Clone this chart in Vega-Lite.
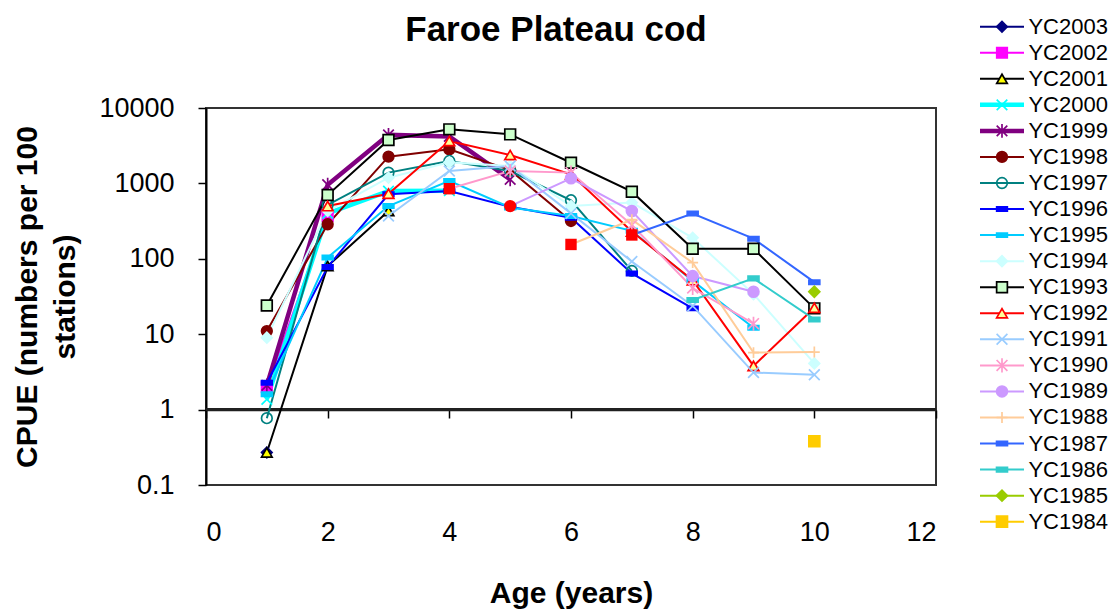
{
  "$schema": "https://vega.github.io/schema/vega-lite/v6.json",
  "padding": {"left": 11, "top": 12, "right": 0, "bottom": 0},
  "config": {"font": "Liberation Sans", "view": {"stroke": null}},
  "datasets": {
    "cpue": [
      {"series": "YC2003", "age": 1, "cpue": 0.27},
      {"series": "YC2002", "age": 1, "cpue": 2.0},
      {"series": "YC2002", "age": 2, "cpue": 370},
      {"series": "YC2001", "age": 1, "cpue": 0.27},
      {"series": "YC2001", "age": 2, "cpue": 80},
      {"series": "YC2001", "age": 3, "cpue": 430},
      {"series": "YC2000", "age": 1, "cpue": 1.37},
      {"series": "YC2000", "age": 2, "cpue": 400},
      {"series": "YC2000", "age": 3, "cpue": 790},
      {"series": "YC2000", "age": 4, "cpue": 800},
      {"series": "YC1999", "age": 1, "cpue": 2.1},
      {"series": "YC1999", "age": 2, "cpue": 960},
      {"series": "YC1999", "age": 3, "cpue": 4400},
      {"series": "YC1999", "age": 4, "cpue": 4200},
      {"series": "YC1999", "age": 5, "cpue": 1130},
      {"series": "YC1998", "age": 1, "cpue": 11},
      {"series": "YC1998", "age": 2, "cpue": 287},
      {"series": "YC1998", "age": 3, "cpue": 2260},
      {"series": "YC1998", "age": 4, "cpue": 2830},
      {"series": "YC1998", "age": 5, "cpue": 1500},
      {"series": "YC1998", "age": 6, "cpue": 317},
      {"series": "YC1997", "age": 1, "cpue": 0.77},
      {"series": "YC1997", "age": 2, "cpue": 520},
      {"series": "YC1997", "age": 3, "cpue": 1390},
      {"series": "YC1997", "age": 4, "cpue": 1980},
      {"series": "YC1997", "age": 5, "cpue": 1460},
      {"series": "YC1997", "age": 6, "cpue": 597},
      {"series": "YC1997", "age": 7, "cpue": 69},
      {"series": "YC1996", "age": 1, "cpue": 2.27},
      {"series": "YC1996", "age": 2, "cpue": 78},
      {"series": "YC1996", "age": 3, "cpue": 716},
      {"series": "YC1996", "age": 4, "cpue": 790},
      {"series": "YC1996", "age": 5, "cpue": 490},
      {"series": "YC1996", "age": 6, "cpue": 350},
      {"series": "YC1996", "age": 7, "cpue": 64},
      {"series": "YC1996", "age": 8, "cpue": 22},
      {"series": "YC1995", "age": 1, "cpue": 1.6},
      {"series": "YC1995", "age": 2, "cpue": 104},
      {"series": "YC1995", "age": 3, "cpue": 500},
      {"series": "YC1995", "age": 4, "cpue": 1080},
      {"series": "YC1995", "age": 5, "cpue": 480},
      {"series": "YC1995", "age": 6, "cpue": 370},
      {"series": "YC1995", "age": 7, "cpue": 235},
      {"series": "YC1995", "age": 8, "cpue": 51},
      {"series": "YC1995", "age": 9, "cpue": 12.2},
      {"series": "YC1994", "age": 1, "cpue": 9},
      {"series": "YC1994", "age": 2, "cpue": 430},
      {"series": "YC1994", "age": 3, "cpue": 1190},
      {"series": "YC1994", "age": 4, "cpue": 1900},
      {"series": "YC1994", "age": 5, "cpue": 1700},
      {"series": "YC1994", "age": 6, "cpue": 500},
      {"series": "YC1994", "age": 7, "cpue": 556},
      {"series": "YC1994", "age": 8, "cpue": 190},
      {"series": "YC1994", "age": 9, "cpue": 34},
      {"series": "YC1994", "age": 10, "cpue": 4.1},
      {"series": "YC1993", "age": 1, "cpue": 24},
      {"series": "YC1993", "age": 2, "cpue": 700},
      {"series": "YC1993", "age": 3, "cpue": 3760},
      {"series": "YC1993", "age": 4, "cpue": 5210},
      {"series": "YC1993", "age": 5, "cpue": 4470},
      {"series": "YC1993", "age": 6, "cpue": 1880},
      {"series": "YC1993", "age": 7, "cpue": 776},
      {"series": "YC1993", "age": 8, "cpue": 136},
      {"series": "YC1993", "age": 9, "cpue": 136},
      {"series": "YC1993", "age": 10, "cpue": 22},
      {"series": "YC1992", "age": 2, "cpue": 500},
      {"series": "YC1992", "age": 3, "cpue": 730},
      {"series": "YC1992", "age": 4, "cpue": 3650},
      {"series": "YC1992", "age": 5, "cpue": 2380},
      {"series": "YC1992", "age": 6, "cpue": 1320},
      {"series": "YC1992", "age": 7, "cpue": 230},
      {"series": "YC1992", "age": 8, "cpue": 52},
      {"series": "YC1992", "age": 9, "cpue": 3.8},
      {"series": "YC1992", "age": 10, "cpue": 22.4},
      {"series": "YC1991", "age": 3, "cpue": 370},
      {"series": "YC1991", "age": 4, "cpue": 1460},
      {"series": "YC1991", "age": 5, "cpue": 1700},
      {"series": "YC1991", "age": 6, "cpue": 400},
      {"series": "YC1991", "age": 7, "cpue": 92},
      {"series": "YC1991", "age": 8, "cpue": 23.7},
      {"series": "YC1991", "age": 9, "cpue": 3.1},
      {"series": "YC1991", "age": 10, "cpue": 2.9},
      {"series": "YC1990", "age": 4, "cpue": 850},
      {"series": "YC1990", "age": 5, "cpue": 1460},
      {"series": "YC1990", "age": 6, "cpue": 1390},
      {"series": "YC1990", "age": 7, "cpue": 280},
      {"series": "YC1990", "age": 8, "cpue": 41},
      {"series": "YC1990", "age": 9, "cpue": 13.8},
      {"series": "YC1989", "age": 5, "cpue": 500},
      {"series": "YC1989", "age": 6, "cpue": 1170},
      {"series": "YC1989", "age": 7, "cpue": 430},
      {"series": "YC1989", "age": 8, "cpue": 59},
      {"series": "YC1989", "age": 9, "cpue": 36.6},
      {"series": "YC1988", "age": 6, "cpue": 155},
      {"series": "YC1988", "age": 7, "cpue": 330},
      {"series": "YC1988", "age": 8, "cpue": 89},
      {"series": "YC1988", "age": 9, "cpue": 5.7},
      {"series": "YC1988", "age": 10, "cpue": 5.8},
      {"series": "YC1987", "age": 7, "cpue": 207},
      {"series": "YC1987", "age": 8, "cpue": 398},
      {"series": "YC1987", "age": 9, "cpue": 185},
      {"series": "YC1987", "age": 10, "cpue": 49},
      {"series": "YC1986", "age": 8, "cpue": 28.4},
      {"series": "YC1986", "age": 9, "cpue": 55},
      {"series": "YC1986", "age": 10, "cpue": 15.7},
      {"series": "YC1985", "age": 10, "cpue": 36.6},
      {"series": "YC1984", "age": 10, "cpue": 0.38}
    ],
    "legend": [
      {"series": "YC2003"}, {"series": "YC2002"}, {"series": "YC2001"}, {"series": "YC2000"},
      {"series": "YC1999"}, {"series": "YC1998"}, {"series": "YC1997"}, {"series": "YC1996"},
      {"series": "YC1995"}, {"series": "YC1994"}, {"series": "YC1993"}, {"series": "YC1992"},
      {"series": "YC1991"}, {"series": "YC1990"}, {"series": "YC1989"}, {"series": "YC1988"},
      {"series": "YC1987"}, {"series": "YC1986"}, {"series": "YC1985"}, {"series": "YC1984"}
    ]
  },
  "spacing": 39,
  "hconcat": [
    {
      "width": 730,
      "height": 377,
      "view": {"stroke": "#333333", "strokeWidth": 2},
      "title": {"text": "Faroe Plateau cod", "fontSize": 35, "fontWeight": "bold", "font": "Liberation Sans", "color": "black", "anchor": "middle", "frame": "group", "dx": -15, "offset": 46},
      "data": {"name": "cpue"},
      "encoding": {
        "x": {"field": "age", "type": "quantitative",
          "scale": {"domain": [0, 12], "nice": false, "zero": false},
          "axis": {"values": [0, 2, 4, 6, 8, 10, 12], "offset": -75, "labelPadding": 101, "tickSize": 8, "tickColor": "black", "tickWidth": 1.5,
            "domainColor": "#222222", "domainWidth": 1.5, "grid": false, "labelFontSize": 27, "labelColor": "black", "labelFont": "Liberation Sans",
            "title": "Age (years)", "titleFontSize": 30, "titleFontWeight": "bold", "titleColor": "black", "titleFont": "Liberation Sans", "titlePadding": 33}},
        "y": {"field": "cpue", "type": "quantitative",
          "scale": {"type": "log", "domain": [0.1, 10000], "nice": false},
          "axis": {"values": [0.1, 1, 10, 100, 1000, 10000], "format": "~g", "tickSize": 8, "tickColor": "black", "tickWidth": 1.5,
            "domainColor": "black", "domainWidth": 2, "grid": false, "labelFontSize": 27, "labelColor": "black", "labelFont": "Liberation Sans", "labelPadding": 24,
            "title": ["CPUE (numbers per 100", "stations)"], "titleFontSize": 30, "titleFontWeight": "bold", "titleColor": "black", "titleFont": "Liberation Sans", "titleLineHeight": 38, "titlePadding": 18}}
      },
      "layer": [
        {
          "mark": {"type": "rule", "color": "#222222", "strokeWidth": 1.5},
          "encoding": {"y": {"datum": 1, "type": "quantitative"}, "x": {"datum": 0, "type": "quantitative"}, "x2": {"datum": 12}}
        },
        {
          "mark": {"type": "line"},
          "encoding": {
            "stroke": {"field": "series", "type": "nominal", "legend": null,
              "scale": {"domain": ["YC2003","YC2002","YC2001","YC2000","YC1999","YC1998","YC1997","YC1996","YC1995","YC1994","YC1993","YC1992","YC1991","YC1990","YC1989","YC1988","YC1987","YC1986","YC1985","YC1984"],
                "range": ["#000080","#FF00FF","#000000","#00FFFF","#800080","#800000","#008080","#0000FF","#00CCFF","#CCFFFF","#000000","#FF0000","#99CCFF","#FF99CC","#CC99FF","#FFCC99","#3366FF","#33CCCC","#99CC00","#FFCC00"]}},
            "strokeWidth": {"condition": {"test": "datum.series=='YC2000'||datum.series=='YC1999'", "value": 4.5}, "value": 2}
          }
        },
        {
          "transform": [{"filter": "!((datum.series=='YC1990'&&datum.age==4)||(datum.series=='YC1989'&&datum.age==5)||(datum.series=='YC1988'&&datum.age==6)||(datum.series=='YC1987'&&datum.age==7))"}],
          "mark": {"type": "point", "opacity": 1, "strokeWidth": 1.7},
          "encoding": {
            "shape": {"field": "series", "type": "nominal", "legend": null,
              "scale": {"domain": ["YC2003","YC2002","YC2001","YC2000","YC1999","YC1998","YC1997","YC1996","YC1995","YC1994","YC1993","YC1992","YC1991","YC1990","YC1989","YC1988","YC1987","YC1986","YC1985","YC1984"],
                "range": ["diamond","square","triangle-up","M-1,-1L1,1M-1,1L1,-1","M-1,-1L1,1M-1,1L1,-1M0,-1.3L0,1.3","circle","circle","M-1,-0.4L1,-0.4L1,0.4L-1,0.4Z","M-1,-0.4L1,-0.4L1,0.4L-1,0.4Z","diamond","square","triangle-up","M-1,-1L1,1M-1,1L1,-1","M-1,-1L1,1M-1,1L1,-1M0,-1.3L0,1.3","circle","M-1,0L1,0M0,-1L0,1","M-1,-0.4L1,-0.4L1,0.4L-1,0.4Z","M-1,-0.4L1,-0.4L1,0.4L-1,0.4Z","diamond","square"]}},
            "fill": {"field": "series", "type": "nominal", "legend": null,
              "scale": {"domain": ["YC2003","YC2002","YC2001","YC2000","YC1999","YC1998","YC1997","YC1996","YC1995","YC1994","YC1993","YC1992","YC1991","YC1990","YC1989","YC1988","YC1987","YC1986","YC1985","YC1984"],
                "range": ["#000080","#FF00FF","#FFFF00","transparent","transparent","#800000","transparent","#0000FF","#00CCFF","#CCFFFF","#CCFFCC","#FFFF99","transparent","transparent","#CC99FF","transparent","#3366FF","#33CCCC","#99CC00","#FFCC00"]}},
            "stroke": {"field": "series", "type": "nominal", "legend": null,
              "scale": {"domain": ["YC2003","YC2002","YC2001","YC2000","YC1999","YC1998","YC1997","YC1996","YC1995","YC1994","YC1993","YC1992","YC1991","YC1990","YC1989","YC1988","YC1987","YC1986","YC1985","YC1984"],
                "range": ["#000080","#FF00FF","#000000","#00FFFF","#800080","#800000","#008080","#0000FF","#00CCFF","#CCFFFF","#000000","#FF0000","#99CCFF","#FF99CC","#CC99FF","#FFCC99","#3366FF","#33CCCC","#99CC00","#FFCC00"]}},
            "size": {"field": "series", "type": "nominal", "legend": null,
              "scale": {"domain": ["YC2003","YC2002","YC2001","YC2000","YC1999","YC1998","YC1997","YC1996","YC1995","YC1994","YC1993","YC1992","YC1991","YC1990","YC1989","YC1988","YC1987","YC1986","YC1985","YC1984"],
                "range": [110,120,130,230,230,140,190,64,100,140,160,170,200,200,180,200,64,100,140,140]}}
          }
        },
        {
          "transform": [{"filter": "(datum.series=='YC1990'&&datum.age==4)||(datum.series=='YC1988'&&datum.age==6)||(datum.series=='YC1987'&&datum.age==7)"}],
          "mark": {"type": "point", "shape": "square", "filled": true, "color": "#FF0000", "opacity": 1, "size": 130}
        },
        {
          "transform": [{"filter": "datum.series=='YC1989'&&datum.age==5"}],
          "mark": {"type": "point", "shape": "circle", "filled": true, "color": "#FF0000", "opacity": 1, "size": 150}
        }
      ]
    },
    {
      "width": 44,
      "height": 377,
      "view": {"stroke": null},
      "data": {"name": "legend"},
      "encoding": {
        "y": {"field": "series", "type": "nominal", "axis": null,
          "scale": {"type": "point", "padding": 0, "range": [-81.3, 413.7], "domain": ["YC2003","YC2002","YC2001","YC2000","YC1999","YC1998","YC1997","YC1996","YC1995","YC1994","YC1993","YC1992","YC1991","YC1990","YC1989","YC1988","YC1987","YC1986","YC1985","YC1984"]}}
      },
      "layer": [
        {
          "mark": {"type": "rule"},
          "encoding": {
            "x": {"datum": 0, "type": "quantitative", "scale": {"domain": [0, 1], "nice": false, "zero": false}, "axis": null},
            "x2": {"datum": 1},
            "stroke": {"field": "series", "type": "nominal", "legend": null,
              "scale": {"domain": ["YC2003","YC2002","YC2001","YC2000","YC1999","YC1998","YC1997","YC1996","YC1995","YC1994","YC1993","YC1992","YC1991","YC1990","YC1989","YC1988","YC1987","YC1986","YC1985","YC1984"],
                "range": ["#000080","#FF00FF","#000000","#00FFFF","#800080","#800000","#008080","#0000FF","#00CCFF","#CCFFFF","#000000","#FF0000","#99CCFF","#FF99CC","#CC99FF","#FFCC99","#3366FF","#33CCCC","#99CC00","#FFCC00"]}},
            "strokeWidth": {"condition": {"test": "datum.series=='YC2000'||datum.series=='YC1999'", "value": 4.5}, "value": 2}
          }
        },
        {
          "mark": {"type": "point", "opacity": 1, "strokeWidth": 1.7},
          "encoding": {
            "x": {"datum": 0.5, "type": "quantitative"},
            "shape": {"field": "series", "type": "nominal", "legend": null,
              "scale": {"domain": ["YC2003","YC2002","YC2001","YC2000","YC1999","YC1998","YC1997","YC1996","YC1995","YC1994","YC1993","YC1992","YC1991","YC1990","YC1989","YC1988","YC1987","YC1986","YC1985","YC1984"],
                "range": ["diamond","square","triangle-up","M-1,-1L1,1M-1,1L1,-1","M-1,-1L1,1M-1,1L1,-1M0,-1.3L0,1.3","circle","circle","M-1,-0.4L1,-0.4L1,0.4L-1,0.4Z","M-1,-0.4L1,-0.4L1,0.4L-1,0.4Z","diamond","square","triangle-up","M-1,-1L1,1M-1,1L1,-1","M-1,-1L1,1M-1,1L1,-1M0,-1.3L0,1.3","circle","M-1,0L1,0M0,-1L0,1","M-1,-0.4L1,-0.4L1,0.4L-1,0.4Z","M-1,-0.4L1,-0.4L1,0.4L-1,0.4Z","diamond","square"]}},
            "fill": {"field": "series", "type": "nominal", "legend": null,
              "scale": {"domain": ["YC2003","YC2002","YC2001","YC2000","YC1999","YC1998","YC1997","YC1996","YC1995","YC1994","YC1993","YC1992","YC1991","YC1990","YC1989","YC1988","YC1987","YC1986","YC1985","YC1984"],
                "range": ["#000080","#FF00FF","#FFFF00","transparent","transparent","#800000","transparent","#0000FF","#00CCFF","#CCFFFF","#CCFFCC","#FFFF99","transparent","transparent","#CC99FF","transparent","#3366FF","#33CCCC","#99CC00","#FFCC00"]}},
            "stroke": {"field": "series", "type": "nominal", "legend": null,
              "scale": {"domain": ["YC2003","YC2002","YC2001","YC2000","YC1999","YC1998","YC1997","YC1996","YC1995","YC1994","YC1993","YC1992","YC1991","YC1990","YC1989","YC1988","YC1987","YC1986","YC1985","YC1984"],
                "range": ["#000080","#FF00FF","#000000","#00FFFF","#800080","#800000","#008080","#0000FF","#00CCFF","#CCFFFF","#000000","#FF0000","#99CCFF","#FF99CC","#CC99FF","#FFCC99","#3366FF","#33CCCC","#99CC00","#FFCC00"]}},
            "size": {"field": "series", "type": "nominal", "legend": null,
              "scale": {"domain": ["YC2003","YC2002","YC2001","YC2000","YC1999","YC1998","YC1997","YC1996","YC1995","YC1994","YC1993","YC1992","YC1991","YC1990","YC1989","YC1988","YC1987","YC1986","YC1985","YC1984"],
                "range": [110,120,130,230,230,140,190,64,100,140,160,170,200,200,180,200,64,100,140,140]}}
          }
        },
        {
          "mark": {"type": "text", "align": "left", "baseline": "middle", "fontSize": 22, "font": "Liberation Sans", "color": "black"},
          "encoding": {
            "x": {"datum": 1.1, "type": "quantitative"},
            "text": {"field": "series", "type": "nominal"}
          }
        }
      ]
    }
  ]
}
